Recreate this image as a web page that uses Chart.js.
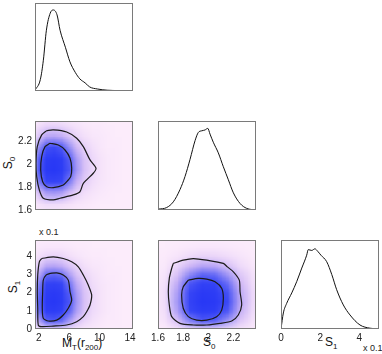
<!DOCTYPE html>
<html><head><meta charset="utf-8">
<script src="https://cdn.jsdelivr.net/npm/chart.js@4/dist/chart.umd.min.js"></script>
<style>
body{margin:0;background:#fff;width:382px;height:354px;overflow:hidden;position:relative;font-family:"Liberation Sans",Arial,sans-serif;}
canvas{position:absolute;left:0;top:0;}
.lbl{position:absolute;font-size:12px;color:#111;white-space:nowrap;line-height:12px;}
.lbl sub{font-size:8px;vertical-align:baseline;position:relative;top:3px;}
.rot{transform:translate(-50%,-50%) rotate(-90deg);}
.small{position:absolute;font-size:9px;color:#222;white-space:nowrap;line-height:9px;}
</style></head><body>
<div class="lbl rot" style="left:9px;top:163px;">S<sub>0</sub></div>
<div class="lbl rot" style="left:14px;top:287px;">S<sub>1</sub></div>
<div class="small" style="left:39px;top:228px;">x 0.1</div>
<div class="lbl" style="left:62px;top:337px;">M<sub>T</sub>(r<sub>200</sub>)</div>
<div class="lbl" style="left:203px;top:336px;">S<sub>0</sub></div>
<div class="lbl" style="left:325px;top:336px;">S<sub>1</sub></div>
<div class="small" style="left:363px;top:344px;">x 0.1</div>
<script>
// ---- marginal densities ----
const mtVals = [1.5, 2.2, 2.6, 3.0, 3.5, 3.9, 4.4, 4.8, 5.5, 6.1, 6.8, 7.4, 8.1, 8.7, 9.7, 11.0, 12.5, 14.4];
const mtDens = [0.01, 0.14, 0.38, 0.75, 0.96, 1.0, 0.94, 0.75, 0.54, 0.36, 0.23, 0.15, 0.10, 0.05, 0.025, 0.01, 0.005, 0];
const s0Vals = [1.6, 1.669, 1.722, 1.775, 1.815, 1.855, 1.895, 1.921, 1.948, 1.974, 1.996, 2.014, 2.04, 2.08, 2.12, 2.16, 2.2, 2.253, 2.306, 2.38];
const s0Dens = [0.01, 0.03, 0.10, 0.25, 0.41, 0.62, 0.85, 0.95, 0.97, 0.98, 1.0, 0.93, 0.83, 0.70, 0.53, 0.37, 0.21, 0.08, 0.02, 0];
const s1Vals = [0, 0.12, 0.29, 0.55, 0.80, 1.06, 1.31, 1.39, 1.57, 1.73, 1.87, 2.04, 2.33, 2.59, 2.84, 3.18, 3.52, 4.03, 4.54, 5.0];
const s1Dens = [0, 0.2, 0.32, 0.45, 0.59, 0.76, 0.92, 0.99, 0.98, 1.0, 0.97, 0.92, 0.84, 0.68, 0.49, 0.30, 0.175, 0.05, 0.01, 0];

// ---- contours (x,y) ----
const mtS0Outer = [[3.04,2.296],[3.91,2.302],[5.67,2.284],[6.99,2.229],[7.86,2.155],[8.74,2.039],[9.53,1.966],[9.17,1.922],[7.86,1.834],[7.42,1.76],[6.54,1.732],[4.79,1.703],[3.91,1.688],[2.59,1.703],[2.07,1.775],[1.72,1.892],[1.63,2.01],[1.8,2.155],[2.38,2.258]];
const mtS0Inner = [[3.47,2.185],[4.57,2.17],[5.45,2.126],[6.11,2.054],[6.33,1.966],[6.2,1.892],[5.88,1.863],[5.22,1.819],[3.91,1.796],[3.04,1.804],[2.51,1.848],[2.25,1.951],[2.38,2.068],[2.82,2.155]];
const mtS1Outer = [[2.38,3.88],[3.91,3.97],[5.22,3.88],[6.33,3.70],[7.2,3.42],[7.86,2.97],[8.51,2.42],[8.96,1.87],[8.74,1.32],[8.3,0.95],[7.86,0.68],[6.99,0.4],[5.67,0.22],[3.91,0.16],[2.38,0.13],[1.93,0.22],[1.86,1.14],[1.8,2.05],[1.86,2.97],[2.07,3.7]];
const mtS1Inner = [[3.47,3.06],[4.36,3.09],[5.22,2.97],[5.88,2.69],[6.11,2.05],[6.33,1.59],[5.88,1.14],[5.22,0.77],[4.36,0.49],[3.25,0.44],[2.59,0.59],[2.46,1.14],[2.51,2.05],[2.59,2.69],[2.95,2.97]];
const s0S1Outer = [[1.722,3.61],[1.801,3.79],[1.881,3.88],[1.988,3.79],[2.12,3.61],[2.152,3.42],[2.2,3.15],[2.247,2.69],[2.253,2.05],[2.266,1.32],[2.239,0.77],[2.187,0.44],[2.094,0.31],[1.988,0.22],[1.881,0.22],[1.775,0.31],[1.709,0.68],[1.69,1.32],[1.682,2.05],[1.69,2.79],[1.709,3.34]];
const s0S1Inner = [[1.841,2.69],[1.921,2.79],[1.988,2.75],[2.054,2.6],[2.107,2.24],[2.12,1.69],[2.107,1.04],[2.067,0.68],[1.988,0.49],[1.908,0.49],[1.841,0.68],[1.801,1.14],[1.788,1.87],[1.801,2.32]];

// ---- density grids (rows listed top to bottom) ----
const mtCenters = [1,2,3,4,5,6,7,8,9,10,11,12,13,14];
const s0RowCenters = [2.45,2.35,2.25,2.15,2.05,1.95,1.85,1.75,1.65,1.55];
const s0ColCenters = [1.55,1.65,1.75,1.85,1.95,2.05,2.15,2.25,2.35,2.45];
const s1RowCenters = [5.0,4.5,4.0,3.5,3.0,2.5,2.0,1.5,1.0,0.5,0.0];
const mtS0Grid = [
 [0,0,0,0,0,0,0,0,0,0,0,0,0,0],
 [0,.06,.1,.1,.09,.06,.04,.02,.01,.01,0,0,0,0],
 [0,.18,.29,.3,.27,.18,.1,.06,.03,.02,.01,0,0,0],
 [0,.39,.62,.65,.59,.39,.23,.13,.07,.03,.01,.01,0,0],
 [0,.57,.9,.95,.86,.57,.33,.19,.1,.05,.02,.01,0,0],
 [0,.6,.95,1,.9,.6,.35,.2,.1,.05,.02,.01,0,0],
 [0,.45,.71,.75,.68,.45,.26,.15,.08,.04,.02,.01,0,0],
 [0,.21,.33,.35,.32,.21,.12,.07,.04,.02,.01,0,0,0],
 [0,.05,.08,.08,.07,.05,.03,.02,.01,0,0,0,0,0],
 [0,0,0,0,0,0,0,0,0,0,0,0,0,0]];
const mtS1Grid = [
 [0,0,0,0,0,0,0,0,0,0,0,0,0,0],
 [0,.02,.03,.03,.03,.02,.01,.01,0,0,0,0,0,0],
 [0,.07,.11,.12,.11,.07,.04,.02,.01,.01,0,0,0,0],
 [0,.17,.29,.3,.27,.18,.11,.06,.03,.02,.01,0,0,0],
 [0,.3,.52,.55,.5,.33,.19,.11,.06,.03,.01,.01,0,0],
 [0,.44,.76,.8,.72,.48,.28,.16,.08,.04,.02,.01,0,0],
 [0,.52,.9,.95,.86,.57,.33,.19,.1,.05,.02,.01,0,0],
 [0,.55,.95,1,.9,.6,.35,.2,.1,.05,.02,.01,0,0],
 [0,.5,.86,.9,.81,.54,.32,.18,.09,.05,.02,.01,0,0],
 [0,.33,.57,.6,.54,.36,.21,.12,.06,.03,.01,.01,0,0],
 [0,.08,.14,.15,.14,.09,.05,.03,.02,.01,0,0,0,0]];
const s0S1Grid = [
 [0,0,0,0,0,0,0,0,0,0],
 [0,0,.01,.02,.03,.03,.02,.01,0,0],
 [0,.01,.04,.09,.12,.11,.08,.04,.01,0],
 [0,.02,.11,.23,.3,.29,.2,.09,.03,0],
 [0,.04,.19,.41,.55,.52,.36,.17,.06,0],
 [0,.06,.28,.6,.8,.76,.52,.24,.08,0],
 [0,.08,.33,.71,.95,.9,.62,.29,.1,0],
 [0,.08,.35,.75,1,.95,.65,.3,.1,0],
 [0,.07,.32,.68,.9,.86,.59,.27,.09,0],
 [0,.05,.21,.45,.6,.57,.39,.18,.06,0],
 [0,.01,.05,.11,.15,.14,.1,.05,.02,0]];

// ---- ticks ----
const mtTicks = [2,6,10,14];
const s0Ticks = [1.6,1.8,2,2.2];
const s1YTicks = [0,1,2,3,4];
const s1XTicks = [0,2,4];

// ---- rendering ----
const W=382,H=354,YW=30,XH=20;
const cols=[[35,133],[158,256],[281,379]];
const rows=[[3,91],[121,210],[240,329]];
const stops=[[0,[252,236,251]],[0.08,[240,220,250]],[0.25,[205,180,246]],[0.45,[125,125,245]],[0.65,[58,72,245]],[1,[40,56,245]]];
function colorFor(v){
  v=Math.max(0,Math.min(1,v));
  for(let k=1;k<stops.length;k++){
    if(v<=stops[k][0]){const a=stops[k-1],b=stops[k];const t=(v-a[0])/(b[0]-a[0]);
      return a[1].map((c,i)=>Math.round(c+(b[1][i]-c)*t));}
  }
  return stops[stops.length-1][1];
}
function heatPlugin(h){return {id:'heat',beforeDatasetsDraw(chart){
  if(!h) return;
  const {grid,xc,yc}=h, ny=grid.length, nx=grid[0].length;
  const off=document.createElement('canvas'); off.width=nx; off.height=ny;
  const o=off.getContext('2d'); const img=o.createImageData(nx,ny);
  for(let j=0;j<ny;j++)for(let i=0;i<nx;i++){const c=colorFor(grid[j][i]);const p=(j*nx+i)*4;
    img.data[p]=c[0];img.data[p+1]=c[1];img.data[p+2]=c[2];img.data[p+3]=255;}
  o.putImageData(img,0,0);
  const xs=chart.scales.x, ys=chart.scales.y, a=chart.chartArea, ctx=chart.ctx;
  const dx=xc[1]-xc[0], dy=yc[0]-yc[1];
  const x0=xs.getPixelForValue(xc[0]-dx/2), x1=xs.getPixelForValue(xc[nx-1]+dx/2);
  const y0=ys.getPixelForValue(yc[0]+dy/2), y1=ys.getPixelForValue(yc[ny-1]-dy/2);
  ctx.save(); ctx.beginPath(); ctx.rect(a.left,a.top,a.right-a.left,a.bottom-a.top); ctx.clip();
  ctx.imageSmoothingEnabled=true; ctx.drawImage(off,x0,y0,x1-x0,y1-y0); ctx.restore();
}};}
const framePlugin={id:'frame',afterDraw(chart){const a=chart.chartArea,ctx=chart.ctx;
  ctx.save();ctx.strokeStyle='#7a7a7a';ctx.lineWidth=1;
  ctx.strokeRect(Math.round(a.left)+0.5,Math.round(a.top)+0.5,Math.round(a.right-a.left)-1,Math.round(a.bottom-a.top)-1);ctx.restore();}};
const pts=(xs,ys)=>xs.map((x,i)=>({x,y:ys[i]}));
const poly=arr=>arr.concat([arr[0]]).map(p=>({x:p[0],y:p[1]}));
function curve(d){return {data:d,showLine:true,pointRadius:0,borderColor:'#111',borderWidth:1,cubicInterpolationMode:'monotone'};}
function contour(arr){return {data:poly(arr),showLine:true,pointRadius:0,borderColor:'#1a1a1a',borderWidth:1.2,tension:0.25};}
function axis(range,ticks,isX){
  const o={type:'linear',min:range[0],max:range[1],grid:{display:false,drawTicks:false,tickLength:0},border:{display:false},
    ticks:{display:!!ticks,padding:3,color:'#222',font:{size:10,family:'Liberation Sans'},maxRotation:0,autoSkip:false,callback:v=>String(v)}};
  if(isX) o.afterFit=s=>{s.height=XH}; else o.afterFit=s=>{s.width=YW};
  if(ticks) o.afterBuildTicks=s=>{s.ticks=ticks.map(v=>({value:v}))};
  return o;
}
function panel(ci,ri,c){
  const cv=document.createElement('canvas');cv.width=W;cv.height=H;document.body.appendChild(cv);
  const [l,r]=cols[ci],[t,b]=rows[ri];
  new Chart(cv,{type:'scatter',data:{datasets:c.datasets},options:{
    responsive:false,animation:false,devicePixelRatio:1,events:[],
    layout:{padding:{left:l-YW,right:W-r,top:t,bottom:H-b-XH}},
    plugins:{legend:{display:false},tooltip:{enabled:false}},
    scales:{x:axis(c.xr,c.xt,true),y:axis(c.yr,c.yt,false)}
  },plugins:[heatPlugin(c.heat),framePlugin]});
}
const mtRange=[1.5,14.4], s0Range=[1.6,2.38], s1Range=[0,4.9], s1XRange=[0,5];
panel(0,0,{xr:mtRange,yr:[0,1.086],datasets:[curve(pts(mtVals,mtDens))]});
panel(0,1,{xr:mtRange,yr:s0Range,yt:s0Ticks,heat:{grid:mtS0Grid,xc:mtCenters,yc:s0RowCenters},datasets:[contour(mtS0Outer),contour(mtS0Inner)]});
panel(1,1,{xr:s0Range,yr:[0,1.09],datasets:[curve(pts(s0Vals,s0Dens))]});
panel(0,2,{xr:mtRange,yr:s1Range,xt:mtTicks,yt:s1YTicks,heat:{grid:mtS1Grid,xc:mtCenters,yc:s1RowCenters},datasets:[contour(mtS1Outer),contour(mtS1Inner)]});
panel(1,2,{xr:s0Range,yr:s1Range,xt:s0Ticks,heat:{grid:s0S1Grid,xc:s0ColCenters,yc:s1RowCenters},datasets:[contour(s0S1Outer),contour(s0S1Inner)]});
panel(2,2,{xr:s1XRange,yr:[0,1.11],xt:s1XTicks,datasets:[curve(pts(s1Vals,s1Dens))]});
</script>
</body></html>
